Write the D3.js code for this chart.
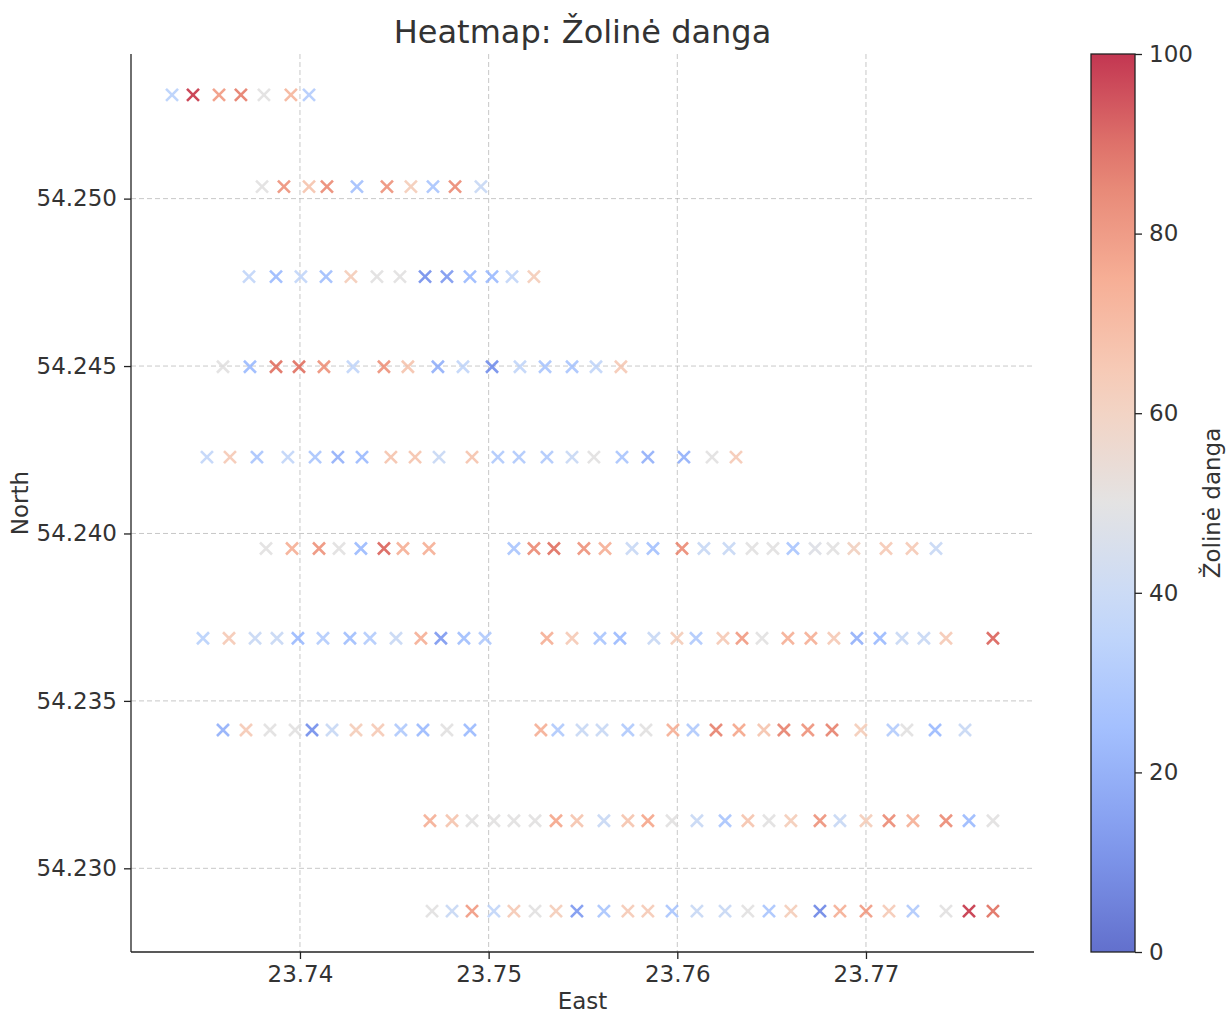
<!DOCTYPE html>
<html>
<head>
<meta charset="utf-8">
<script src="https://cdn.jsdelivr.net/npm/d3@7"></script>
<style>
  body { margin: 0; background: #fff; }
  text { font-family: "DejaVu Sans", sans-serif; fill: #333; }
</style>
</head>
<body>
<svg id="chart" width="1228" height="1014"></svg>
<script>
const W = 1228, H = 1014;
const plot = {left: 131, right: 1034, top: 54, bottom: 952};

// rows of points: North value, East values and grass cover values
const rowNorth = [54.25310, 54.25036, 54.24767, 54.24498, 54.24228, 54.23955, 54.23687, 54.23413, 54.23142, 54.22872];

const east1 = [23.73322, 23.73433, 23.73571, 23.73687, 23.73809, 23.73952, 23.74048];
const east2 = [23.73799, 23.73915, 23.74048, 23.74143, 23.74302, 23.74461, 23.74588, 23.74705, 23.74822, 23.74959];
const east3 = [23.73730, 23.73873, 23.74005, 23.74138, 23.74270, 23.74408, 23.74530, 23.74663, 23.74779, 23.74901, 23.75018, 23.75124, 23.75240];
const east4 = [23.73592, 23.73735, 23.73873, 23.73995, 23.74127, 23.74281, 23.74445, 23.74572, 23.74731, 23.74864, 23.75018, 23.75166, 23.75299, 23.75442, 23.75569, 23.75701];
const east5 = [23.73507, 23.73629, 23.73772, 23.73936, 23.74080, 23.74201, 23.74329, 23.74482, 23.74610, 23.74737, 23.74912, 23.75049, 23.75161, 23.75309, 23.75442, 23.75558, 23.75707, 23.75844, 23.76035, 23.76184, 23.76311];
const east6 = [23.73820, 23.73958, 23.74101, 23.74207, 23.74323, 23.74445, 23.74546, 23.74684, 23.75134, 23.75240, 23.75346, 23.75505, 23.75617, 23.75760, 23.75871, 23.76025, 23.76141, 23.76274, 23.76396, 23.76507, 23.76613, 23.76730, 23.76825, 23.76936, 23.77106, 23.77244, 23.77371];
const east7 = [23.73486, 23.73624, 23.73762, 23.73878, 23.73989, 23.74122, 23.74265, 23.74371, 23.74509, 23.74641, 23.74747, 23.74869, 23.74981, 23.75309, 23.75442, 23.75590, 23.75696, 23.75876, 23.75998, 23.76099, 23.76242, 23.76343, 23.76449, 23.76586, 23.76708, 23.76830, 23.76952, 23.77074, 23.77191, 23.77307, 23.77424, 23.77673];
const east8 = [23.73592, 23.73714, 23.73841, 23.73974, 23.74064, 23.74170, 23.74297, 23.74413, 23.74535, 23.74652, 23.74779, 23.74901, 23.75277, 23.75367, 23.75495, 23.75601, 23.75738, 23.75834, 23.75977, 23.76083, 23.76205, 23.76327, 23.76459, 23.76565, 23.76692, 23.76820, 23.76973, 23.77143, 23.77217, 23.77366, 23.77525];
const east9 = [23.74689, 23.74806, 23.74912, 23.75028, 23.75134, 23.75246, 23.75357, 23.75468, 23.75611, 23.75738, 23.75844, 23.75972, 23.76104, 23.76253, 23.76374, 23.76486, 23.76602, 23.76756, 23.76862, 23.77000, 23.77122, 23.77249, 23.77424, 23.77546, 23.77673];
const east10 = [23.74700, 23.74806, 23.74912, 23.75028, 23.75134, 23.75246, 23.75357, 23.75468, 23.75611, 23.75738, 23.75844, 23.75972, 23.76104, 23.76253, 23.76374, 23.76486, 23.76602, 23.76756, 23.76862, 23.77000, 23.77122, 23.77249, 23.77424, 23.77546, 23.77673];

const cover1 = [35, 97, 78, 85, 50, 70, 33];
const cover2 = [50, 80, 65, 82, 28, 80, 62, 30, 82, 40];
const cover3 = [38, 25, 38, 27, 62, 50, 50, 12, 15, 25, 25, 38, 62];
const cover4 = [50, 25, 88, 88, 80, 38, 80, 65, 22, 38, 12, 38, 30, 30, 38, 63];
const cover5 = [38, 63, 30, 38, 30, 22, 25, 65, 65, 40, 65, 32, 32, 32, 40, 50, 30, 22, 22, 50, 63];
const cover6 = [50, 72, 80, 50, 25, 90, 72, 72, 30, 82, 88, 80, 72, 40, 28, 82, 40, 40, 50, 50, 30, 48, 50, 60, 63, 63, 40];
const cover7 = [35, 63, 40, 40, 25, 33, 27, 33, 40, 72, 15, 27, 32, 72, 63, 30, 25, 40, 62, 32, 63, 78, 50, 72, 72, 63, 22, 25, 40, 40, 63, 90];
const cover8 = [22, 63, 50, 50, 12, 40, 62, 63, 32, 25, 50, 25, 72, 32, 40, 40, 32, 50, 72, 32, 84, 75, 65, 84, 80, 84, 62, 33, 50, 25, 40];
const cover9 = [72, 65, 50, 50, 50, 50, 75, 65, 40, 65, 75, 50, 40, 30, 65, 50, 62, 80, 40, 62, 82, 72, 82, 25, 50];
const cover10 = [50, 40, 78, 38, 63, 50, 62, 15, 30, 63, 63, 30, 40, 40, 50, 30, 62, 10, 72, 78, 63, 32, 50, 97, 88];

const xTicks = [23.74, 23.75, 23.76, 23.77];
const yTicks = [54.230, 54.235, 54.240, 54.245, 54.250];
const cTicks = [0, 20, 40, 60, 80, 100];

const eastRows = [east1, east2, east3, east4, east5, east6, east7, east8, east9, east10];
const coverRows = [cover1, cover2, cover3, cover4, cover5, cover6, cover7, cover8, cover9, cover10];

const points = [];
eastRows.forEach((row, i) => {
    row.forEach((e, j) => points.push({east: e, north: rowNorth[i], cover: coverRows[i][j]}));
});

// coolwarm colormap anchors
const coolwarm = d3.scaleLinear()
    .domain([0, 0.125, 0.25, 0.375, 0.5, 0.625, 0.75, 0.875, 1])
    .range(["#3b4cc0", "#6282ea", "#8db0fe", "#b8d0f9", "#dddcdc", "#f4c4ad", "#f49a7b", "#de604d", "#b40426"])
    .interpolate(d3.interpolateRgb);
const color = v => coolwarm(v / 100);

const svg = d3.select('#chart');

// 5% margins like matplotlib
const padExt = (ext) => { const p = (ext[1] - ext[0]) * 0.05; return [ext[0] - p, ext[1] + p]; };

const x = d3.scaleLinear()
    .domain(padExt(d3.extent(points, d => d.east)))
    .range([plot.left, plot.right]);
const y = d3.scaleLinear()
    .domain(padExt(d3.extent(points, d => d.north)))
    .range([plot.bottom, plot.top]);

// grid
const grid = svg.append('g')
    .attr('stroke', '#b0b0b0')
    .attr('stroke-opacity', 0.7)
    .attr('stroke-width', 1)
    .attr('stroke-dasharray', '5,3');
grid.selectAll('.gx').data(xTicks).enter().append('line')
    .attr('x1', d => x(d)).attr('x2', d => x(d))
    .attr('y1', plot.top).attr('y2', plot.bottom);
grid.selectAll('.gy').data(yTicks).enter().append('line')
    .attr('x1', plot.left).attr('x2', plot.right)
    .attr('y1', d => y(d)).attr('y2', d => y(d));

// markers
svg.append('g')
    .selectAll('path')
    .data(points)
    .enter().append('path')
    .attr('transform', d => `translate(${x(d.east)},${y(d.north)})`)
    .attr('d', 'M-6,-6L6,6M-6,6L6,-6')
    .attr('fill', 'none')
    .attr('stroke', d => color(d.cover))
    .attr('stroke-opacity', 0.8)
    .attr('stroke-width', 2.6);

// axes
const xAxis = svg.append('g')
    .attr('transform', `translate(0,${plot.bottom})`)
    .call(d3.axisBottom(x).tickValues(xTicks).tickFormat(d3.format('.2f')).tickSize(7).tickPadding(7));
const yAxis = svg.append('g')
    .attr('transform', `translate(${plot.left},0)`)
    .call(d3.axisLeft(y).tickValues(yTicks).tickFormat(d3.format('.3f')).tickSize(7).tickPadding(7));
[xAxis, yAxis].forEach(a => {
    a.select('.domain').attr('stroke', '#222').attr('stroke-width', 1.3)
        .attr('d', a === xAxis ? `M${plot.left},0H${plot.right}` : `M0,${plot.top}V${plot.bottom}`);
    a.selectAll('.tick line').attr('stroke', '#222').attr('stroke-width', 1.3);
    a.selectAll('.tick text').attr('font-size', 23).attr('fill', '#333')
        .attr('font-family', '"DejaVu Sans", sans-serif');
});

// title and labels
svg.append('text')
    .attr('x', (plot.left + plot.right) / 2).attr('y', 43)
    .attr('text-anchor', 'middle').attr('font-size', 32)
    .text('Heatmap: Žolinė danga');
svg.append('text')
    .attr('x', (plot.left + plot.right) / 2).attr('y', 1009)
    .attr('text-anchor', 'middle').attr('font-size', 23)
    .text('East');
svg.append('text')
    .attr('transform', `translate(28,${(plot.top + plot.bottom) / 2}) rotate(-90)`)
    .attr('text-anchor', 'middle').attr('font-size', 23)
    .text('North');

// colorbar
const cb = {left: 1091, right: 1135};
const defs = svg.append('defs');
const grad = defs.append('linearGradient')
    .attr('id', 'cw').attr('x1', 0).attr('y1', 1).attr('x2', 0).attr('y2', 0);
d3.range(0, 1.0001, 0.05).forEach(t => {
    grad.append('stop').attr('offset', t).attr('stop-color', coolwarm(t));
});
svg.append('rect')
    .attr('x', cb.left).attr('y', plot.top)
    .attr('width', cb.right - cb.left).attr('height', plot.bottom - plot.top)
    .attr('fill', 'url(#cw)').attr('fill-opacity', 0.8);
svg.append('rect')
    .attr('x', cb.left).attr('y', plot.top)
    .attr('width', cb.right - cb.left).attr('height', plot.bottom - plot.top)
    .attr('fill', 'none').attr('stroke', '#222').attr('stroke-width', 1.3);

const c = d3.scaleLinear().domain([0, 100]).range([plot.bottom, plot.top]);
const cAxis = svg.append('g')
    .attr('transform', `translate(${cb.right},0)`)
    .call(d3.axisRight(c).tickValues(cTicks).tickSize(7).tickPadding(7));
cAxis.select('.domain').remove();
cAxis.selectAll('.tick line').attr('stroke', '#222').attr('stroke-width', 1.3);
cAxis.selectAll('.tick text').attr('font-size', 23).attr('fill', '#333')
    .attr('font-family', '"DejaVu Sans", sans-serif');

svg.append('text')
    .attr('transform', `translate(1220,${(plot.top + plot.bottom) / 2}) rotate(-90)`)
    .attr('text-anchor', 'middle').attr('font-size', 23)
    .text('Žolinė danga');
</script>
</body>
</html>
